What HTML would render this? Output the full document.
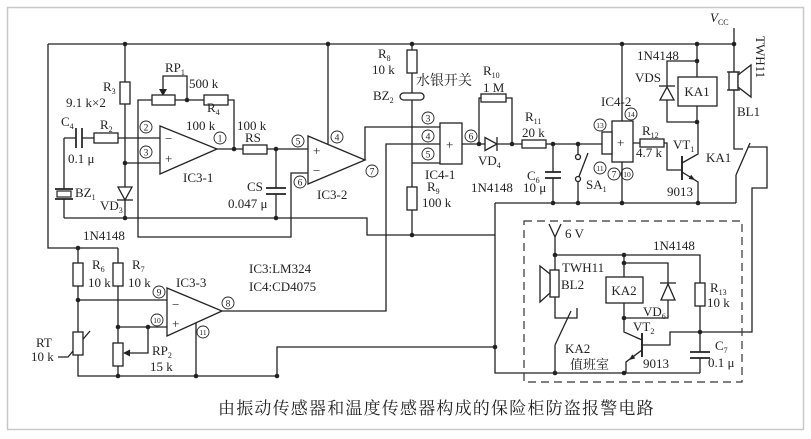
<!DOCTYPE html>
<html><head><meta charset="utf-8">
<style>
html,body{margin:0;padding:0;background:#fff;}
svg{display:block;}
text{font-family:"Liberation Serif","Noto Serif CJK SC",serif;font-size:13px;fill:#222;}
.cjk{font-family:"Liberation Serif","Noto Serif CJK SC","Noto Sans CJK SC",serif;}
.w{fill:none;stroke:#222;stroke-width:1.3;}
.p{fill:#fff;stroke:#222;stroke-width:1.3;}
.cap{fill:none;stroke:#222;stroke-width:1.7;}
.c{fill:none;stroke:#222;stroke-width:0.9;}
.n{font-size:9.5px;text-anchor:middle;}
.n2{font-size:7.5px;text-anchor:middle;}
.s{font-size:8px;}
</style></head><body>
<svg width="811" height="439" viewBox="0 0 811 439" xmlns="http://www.w3.org/2000/svg">
<rect x="7.5" y="7.5" width="796" height="422" fill="none" stroke="#c8c8c8" stroke-width="1.5"/>

<!-- wires -->
<path class="w" d="
M48,44 H734
M48,44 V248 H118
M125,44 V82 M125,104 V187 M125,200 V218
M125,163 H160
M64,138 H76 M82,138 H94 M118,138 H160
M64,138 V189 M64,199 V218
M64,218 H367 V235 H495
M217,149 H243 M267,149 H308
M234,149 V100 H228 M204,100 H175 M152,100 H138 V237 H291 V173 H308
M187,100 V76 H163 V90
M276,149 V188 M276,194 V218
M328,44 V144
M365,160 V127 H440
M222,311 H386 V144 H440
M412,44 V50 M412,73 V93 M412,100 V187 M412,210 V235
M412,163 H440
M462,144 H485 M497,144 H522 M546,144 H602
M479,144 V98 H481 M506,98 H512 V144
M553,144 V172 M553,178 V203
M578,144 V154.5 M578,181.5 V203
M495,203 H736
M495,203 V373 H700
M277,376 V347 H495
M622,44 V121 M622,162 V203
M633,143 H640 M664,143 H667 V170 H682
M682,163 L698,154 V122
M682,172 L698,182 V203
M697,44 V77 M697,106 V122
M697,61 H667 V86 M667,100 V122 H697
M734,28 V72 M734,90 V149 H743
M736,175 L750,143
M748,147 H767 V188 H752 V332 H700
M736,175 V203
M549,224 L555,237 L561,224 M555,237 V270
M555,255 H700 V283 M700,306 V352 M700,358 V373
M555,297 V318 H577 V308
M555,345 L571,311
M555,345 V373
M624,255 V277 M624,303 V332 L642,340
M642,350 L626,362 V373
M642,345 H670 V332 H700
M624,263 H668 V283 M668,300 V318 H624
M78,248 V263 M78,286 V332 M78,355 V376 H277
M78,300 H167
M118,248 V263 M118,286 V343 M118,366 V376
M118,327 H167
M148,327 V353 H128
M196,323 V376
M58,357 H68 L90,331
"/>

<!-- dashed box -->
<rect x="524" y="221" width="218" height="161" fill="none" stroke="#333" stroke-width="1.2" stroke-dasharray="8 5"/>

<!-- transistor bars -->
<path d="M682,156 V180 M642,333 V357" stroke="#222" stroke-width="1.9" fill="none"/>
<polygon points="695,180 688.6,178.9 691.2,174.7" fill="#222"/>
<polygon points="629,360 632.3,354.4 635.3,358.4" fill="#222"/>

<!-- arrows for pots -->
<polygon points="159,89 167,89 163,96" fill="#222"/>
<polygon points="123,353 130,349.5 130,356.5" fill="#222"/>

<!-- diodes -->
<polygon points="118,187 132,187 125,200" class="p"/>
<path class="w" d="M117,200 H133"/>
<polygon points="485,137.5 485,150.5 497,144" class="p"/>
<path class="w" d="M497,137 V151"/>
<polygon points="660,100 674,100 667,87" class="p"/>
<path class="w" d="M659,86 H675"/>
<polygon points="661,300 675,300 668,284" class="p"/>
<path class="w" d="M660,283 H676"/>

<!-- resistors -->
<rect class="p" x="120" y="82" width="10" height="22"/>
<rect class="p" x="94" y="133" width="24" height="10"/>
<rect class="p" x="152" y="95" width="23" height="10"/>
<rect class="p" x="204" y="95" width="24" height="10"/>
<rect class="p" x="243" y="145" width="24" height="9"/>
<rect class="p" x="407" y="50" width="10" height="23"/>
<rect class="p" x="407" y="187" width="10" height="23"/>
<rect class="p" x="481" y="94" width="25" height="8"/>
<rect class="p" x="522" y="140" width="24" height="8"/>
<rect class="p" x="640" y="139" width="24" height="8"/>
<rect class="p" x="695" y="283" width="10" height="23"/>
<rect class="p" x="73" y="263" width="10" height="23"/>
<rect class="p" x="113" y="263" width="10" height="23"/>
<rect class="p" x="73" y="332" width="10" height="23"/>
<rect class="p" x="113" y="343" width="10" height="23"/>

<!-- capacitors -->
<path class="cap" d="M76,128 V148 M82,128 V148 M266,188 H286 M266,194 H286 M545,172 H561 M545,178 H561 M690,352 H710 M690,358 H710"/>

<!-- BZ1 -->
<path class="cap" d="M55,189 H73 M55,199 H73"/>
<rect x="57" y="191" width="14" height="6" fill="none" stroke="#222" stroke-width="1.2"/>
<!-- BZ2 -->
<rect x="400" y="93" width="24" height="7" rx="3.5" class="p"/>

<!-- SA1 -->
<circle cx="578" cy="157" r="2.5" class="p"/>
<circle cx="578" cy="179" r="2.5" class="p"/>
<path class="w" d="M579,176.5 L588,153"/>

<!-- relays, ICs -->
<rect class="p" x="678" y="77" width="39" height="29"/>
<rect class="p" x="606" y="277" width="37" height="26"/>
<rect class="p" x="440" y="123" width="22" height="41"/>
<rect class="p" x="612" y="121" width="21" height="41"/>
<rect class="p" x="602" y="132" width="10" height="22"/>

<!-- op amps -->
<polygon class="p" points="160,126 160,174 217,149"/>
<polygon class="p" points="308,136 308,184 365,160"/>
<polygon class="p" points="167,288 167,336 222,311"/>

<!-- speakers -->
<rect class="p" x="729" y="72" width="9" height="18"/>
<polygon class="p" points="738,75 751,65 751,97 738,87"/>
<path class="w" d="M727,72 H740 M727,90 H740"/>
<rect class="p" x="550" y="270" width="9" height="27"/>
<polygon class="p" points="550,274 540,266 540,302 550,293"/>

<!-- dots -->
<g fill="#222">
<circle cx="125" cy="44" r="2.3"/><circle cx="328" cy="44" r="2.3"/><circle cx="412" cy="44" r="2.3"/>
<circle cx="622" cy="44" r="2.3"/><circle cx="697" cy="44" r="2.3"/><circle cx="734" cy="44" r="2.3"/>
<circle cx="125" cy="163" r="2.3"/><circle cx="125" cy="218" r="2.3"/><circle cx="276" cy="218" r="2.3"/>
<circle cx="187" cy="100" r="2.3"/><circle cx="234" cy="149" r="2.3"/><circle cx="276" cy="149" r="2.3"/>
<circle cx="412" cy="235" r="2.3"/><circle cx="479" cy="144" r="2.3"/><circle cx="512" cy="144" r="2.3"/>
<circle cx="553" cy="144" r="2.3"/><circle cx="578" cy="144" r="2.3"/><circle cx="553" cy="203" r="2.3"/>
<circle cx="578" cy="203" r="2.3"/><circle cx="622" cy="203" r="2.3"/><circle cx="698" cy="203" r="2.3"/>
<circle cx="697" cy="61" r="2.3"/><circle cx="697" cy="122" r="2.3"/><circle cx="495" cy="347" r="2.3"/>
<circle cx="277" cy="376" r="2.3"/><circle cx="78" cy="248" r="2.3"/><circle cx="78" cy="300" r="2.3"/>
<circle cx="118" cy="327" r="2.3"/><circle cx="148" cy="327" r="2.3"/><circle cx="118" cy="376" r="2.3"/>
<circle cx="196" cy="376" r="2.3"/><circle cx="555" cy="255" r="2.3"/><circle cx="624" cy="255" r="2.3"/>
<circle cx="624" cy="263" r="2.3"/><circle cx="624" cy="318" r="2.3"/><circle cx="700" cy="332" r="2.3"/>
<circle cx="555" cy="373" r="2.3"/><circle cx="624" cy="373" r="2.3"/>
</g>

<!-- circled pin numbers -->
<g>
<circle class="c" cx="146" cy="127" r="6"/><text class="n" x="146" y="130.5">2</text>
<circle class="c" cx="146" cy="152" r="6"/><text class="n" x="146" y="155.5">3</text>
<circle class="c" cx="220" cy="138" r="6"/><text class="n" x="220" y="141.5">1</text>
<circle class="c" cx="298" cy="141" r="6"/><text class="n" x="298" y="144.5">5</text>
<circle class="c" cx="337" cy="137" r="6"/><text class="n" x="337" y="140.5">4</text>
<circle class="c" cx="300" cy="182" r="6"/><text class="n" x="300" y="185.5">6</text>
<circle class="c" cx="372" cy="171" r="6"/><text class="n" x="372" y="174.5">7</text>
<circle class="c" cx="428" cy="118" r="6"/><text class="n" x="428" y="121.5">3</text>
<circle class="c" cx="428" cy="136" r="6"/><text class="n" x="428" y="139.5">4</text>
<circle class="c" cx="428" cy="154" r="6"/><text class="n" x="428" y="157.5">5</text>
<circle class="c" cx="471" cy="136" r="6"/><text class="n" x="471" y="139.5">6</text>
<circle class="c" cx="600" cy="125" r="6"/><text class="n2" x="600" y="127.8">13</text>
<circle class="c" cx="631" cy="114" r="6"/><text class="n2" x="631" y="116.8">14</text>
<circle class="c" cx="600" cy="168" r="6"/><text class="n2" x="600" y="170.8">11</text>
<circle class="c" cx="614" cy="174" r="6"/><text class="n" x="614" y="177.5">7</text>
<circle class="c" cx="627" cy="174" r="6"/><text class="n2" x="627" y="176.8">10</text>
<circle class="c" cx="159" cy="292" r="6"/><text class="n" x="159" y="295.5">9</text>
<circle class="c" cx="157" cy="320" r="6"/><text class="n2" x="157" y="322.8">10</text>
<circle class="c" cx="228" cy="303" r="6"/><text class="n" x="228" y="306.5">8</text>
<circle class="c" cx="203" cy="332" r="6"/><text class="n2" x="203" y="334.8">11</text>
</g>

<!-- op-amp signs -->
<text x="165" y="143">−</text><text x="165" y="163">+</text>
<text x="313" y="155">+</text><text x="313" y="175">−</text>
<text x="172" y="309">−</text><text x="172" y="328">+</text>
<text x="446" y="149">+</text><text x="617" y="147">+</text>

<!-- labels -->
<text x="165" y="72">RP<tspan class="s" dy="3">1</tspan></text>
<text x="189" y="88">500 k</text>
<text x="103" y="91">R<tspan class="s" dy="3">3</tspan></text>
<text x="66" y="107">9.1 k×2</text>
<text x="61" y="126">C<tspan class="s" dy="3">4</tspan></text>
<text x="100" y="129">R<tspan class="s" dy="3">2</tspan></text>
<text x="207" y="112">R<tspan class="s" dy="3">4</tspan></text>
<text x="186" y="130">100 k</text>
<text x="237" y="130">100 k</text>
<text x="245" y="142">RS</text>
<text x="68" y="163">0.1 μ</text>
<text x="183" y="182">IC3-1</text>
<text x="75" y="197">BZ<tspan class="s" dy="3">1</tspan></text>
<text x="247" y="191">CS</text>
<text x="100" y="210">VD<tspan class="s" dy="3">3</tspan></text>
<text x="228" y="208">0.047 μ</text>
<text x="83" y="240">1N4148</text>
<text x="378" y="58">R<tspan class="s" dy="3">8</tspan></text>
<text x="372" y="74">10 k</text>
<text class="cjk" x="416" y="85" style="font-size:14px">水银开关</text>
<text x="373" y="100">BZ<tspan class="s" dy="3">2</tspan></text>
<text x="483" y="75">R<tspan class="s" dy="3">10</tspan></text>
<text x="483" y="92">1 M</text>
<text x="317" y="199">IC3-2</text>
<text x="425" y="179">IC4-1</text>
<text x="427" y="191">R<tspan class="s" dy="3">9</tspan></text>
<text x="422" y="207">100 k</text>
<text x="478" y="165">VD<tspan class="s" dy="3">4</tspan></text>
<text x="471" y="192">1N4148</text>
<text x="525" y="121">R<tspan class="s" dy="3">11</tspan></text>
<text x="522" y="137">20 k</text>
<text x="527" y="180">C<tspan class="s" dy="3">6</tspan></text>
<text x="523" y="192">10 μ</text>
<text x="710" y="22" style="font-style:italic">V<tspan class="s" dy="3" style="font-style:normal">CC</tspan></text>
<text x="637" y="60">1N4148</text>
<text x="635" y="82">VDS</text>
<text x="697" y="96" text-anchor="middle">KA1</text>
<text x="0" y="0" transform="translate(756,36) rotate(90)">TWH11</text>
<text x="737" y="116">BL1</text>
<text x="601" y="106">IC4-2</text>
<text x="642" y="135">R<tspan class="s" dy="3">12</tspan></text>
<text x="636" y="157">4.7 k</text>
<text x="673" y="149">VT<tspan class="s" dy="3">1</tspan></text>
<text x="706" y="162">KA1</text>
<text x="586" y="189">SA<tspan class="s" dy="3">1</tspan></text>
<text x="667" y="196">9013</text>
<text x="565" y="238">6 V</text>
<text x="562" y="272">TWH11</text>
<text x="561" y="289">BL2</text>
<text x="624" y="295" text-anchor="middle">KA2</text>
<text x="653" y="250">1N4148</text>
<text x="643" y="316">VD<tspan class="s" dy="3">6</tspan></text>
<text x="633" y="331">VT<tspan class="s" dy="3">2</tspan></text>
<text x="710" y="292">R<tspan class="s" dy="3">13</tspan></text>
<text x="707" y="307">10 k</text>
<text x="715" y="350">C<tspan class="s" dy="3">7</tspan></text>
<text x="708" y="367">0.1 μ</text>
<text x="565" y="353">KA2</text>
<text class="cjk" x="570" y="369" style="font-size:13px">值班室</text>
<text x="643" y="368">9013</text>
<text x="176" y="287">IC3-3</text>
<text x="92" y="269">R<tspan class="s" dy="3">6</tspan></text>
<text x="88" y="287">10 k</text>
<text x="132" y="269">R<tspan class="s" dy="3">7</tspan></text>
<text x="128" y="287">10 k</text>
<text x="36" y="347">RT</text>
<text x="31" y="361">10 k</text>
<text x="152" y="355">RP<tspan class="s" dy="3">2</tspan></text>
<text x="150" y="371">15 k</text>
<text x="249" y="273">IC3:LM324</text>
<text x="249" y="291">IC4:CD4075</text>
<text class="cjk" x="218" y="414" style="font-size:17px;letter-spacing:1.2px">由振动传感器和温度传感器构成的保险柜防盗报警电路</text>
</svg>
</body></html>
